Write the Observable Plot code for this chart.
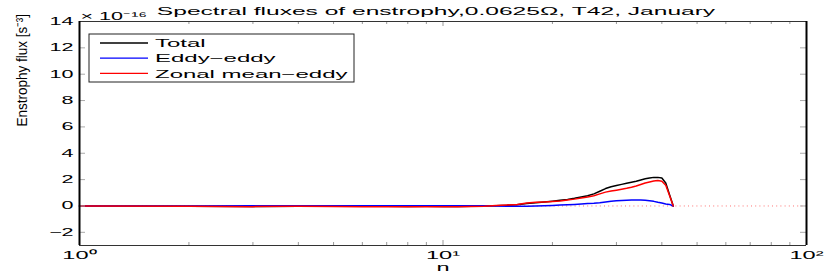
<!DOCTYPE html>
<html><head><meta charset="utf-8">
<script src="https://cdn.jsdelivr.net/npm/d3@7"></script>
<script src="https://cdn.jsdelivr.net/npm/@observablehq/plot@0.6"></script>
<style>body{margin:0;background:#fff} svg{display:block;background:#fff}</style>
</head><body><div id="chart"></div>
<script>
// ---- data (units of 1e-16 s^-3) ----
const n = [1,2,3,4,5,6,7,8,9,10,11,12,13,14,15,16,17,18,19,20,21,22,23,24,25,26,27,28,29,30,31,32,33,34,35,36,37,38,39,40,41,42,43];
const total = [0,-0.02,-0.04,-0.02,-0.02,-0.03,-0.03,-0.04,-0.03,-0.04,-0.04,-0.03,-0.01,0.02,0.05,0.1,0.18,0.25,0.3,0.36,0.43,0.5,0.58,0.68,0.78,0.92,1.12,1.32,1.46,1.55,1.64,1.72,1.8,1.88,1.97,2.06,2.12,2.17,2.17,2.12,1.75,0.85,0];
const eddy  = [0,0,0.01,0.01,0.02,0.02,0.02,0.02,0.02,0.02,0.01,0.01,0.01,0,-0.02,-0.02,-0.02,0,0.02,0.04,0.07,0.09,0.12,0.15,0.18,0.2,0.24,0.3,0.36,0.39,0.42,0.44,0.45,0.46,0.46,0.44,0.4,0.35,0.28,0.22,0.15,0.12,0];
const zonal = [0,-0.02,-0.05,-0.03,-0.04,-0.05,-0.05,-0.06,-0.05,-0.06,-0.05,-0.04,-0.02,0.03,0.07,0.12,0.22,0.28,0.31,0.34,0.38,0.45,0.52,0.6,0.68,0.78,0.92,1.05,1.13,1.2,1.27,1.34,1.42,1.52,1.63,1.74,1.82,1.9,1.93,1.88,1.58,0.8,0];
const seriesNames = ["Total", "Eddy\u2212eddy", "Zonal mean\u2212eddy"];
const seriesColors = ["#000000", "#0000ff", "#ff0000"];
const xDomain = [1, 100];
const yDomain = [-3, 14];
const xMajorTicks = [1, 10, 100];
const xTickLabels = ["10\u2070", "10\u00b9", "10\u00b2"];
const xInnerMajor = [10];
const xMinorTicks = [2,3,4,5,6,7,8,9,20,30,40,50,60,70,80,90];
const yTicks = [-2, 0, 2, 4, 6, 8, 10, 12, 14];
const zeroLine = [0];
const titleText = "Spectral fluxes of enstrophy,0.0625\u03a9, T42, January";
const scaleNote = "\u00d7 10\u207b\u00b9\u2076";
const yLabelText = "Enstrophy flux [s\u207b\u00b3]";
const xLabelText = "n";

// ---- layout ----
const W = 830, H = 273, mL = 79, mR = 24, mT = 21, mB = 28;
const fw = W - mL - mR, fh = H - mT - mB;
const FONT = "Liberation Sans, Arial, Helvetica, sans-serif";
const FS = 10.5;
const STRETCH = 2.05;

const rows = [];
[total, eddy, zonal].forEach((arr, s) => arr.forEach((v, i) => rows.push({n: n[i], v, series: seriesNames[s]})));

const plot = Plot.plot({
  width: W, height: H,
  marginLeft: mL, marginRight: mR, marginTop: mT, marginBottom: mB,
  style: {fontFamily: FONT, fontSize: FS + "px", background: "#fff", overflow: "visible"},
  x: {type: "log", domain: xDomain, label: null},
  y: {domain: yDomain, label: null},
  color: {domain: seriesNames, range: seriesColors},
  marks: [
    Plot.ruleY(zeroLine, {stroke: "#ff0000", strokeOpacity: 0.55, strokeDasharray: "1,3.2"}),
    Plot.line(rows, {x: "n", y: "v", z: "series", stroke: "series", strokeWidth: 1.5}),
    // inside ticks
    Plot.ruleX(xMinorTicks, {stroke: "#999", insetTop: fh - 3}),
    Plot.ruleX(xMinorTicks, {stroke: "#999", insetBottom: fh - 3}),
    Plot.ruleX(xInnerMajor, {stroke: "#999", insetTop: fh - 5}),
    Plot.ruleX(xInnerMajor, {stroke: "#999", insetBottom: fh - 5}),
    Plot.ruleY(yTicks, {stroke: "#aaa", insetRight: fw - 6}),
    Plot.ruleY(yTicks, {stroke: "#aaa", insetLeft: fw - 6}),
    // box
    Plot.ruleY(yDomain, {stroke: "#333", strokeWidth: 1}),
    Plot.ruleX(xDomain, {stroke: "#000", strokeWidth: 2}),
    Plot.axisX({ticks: xMajorTicks, tickFormat: (d, i) => xTickLabels[xMajorTicks.indexOf(d)], tickSize: 0, tickPadding: 5, fontSize: 11.5, label: null}),
    Plot.axisY({ticks: yTicks, tickSize: 0, tickPadding: 6, label: null}),
    Plot.text([titleText], {text: d => d, frameAnchor: "top", lineAnchor: "bottom", dy: -7, dx: -7, fontSize: FS + 0.8, className: "ttl"}),
    Plot.text([scaleNote], {text: d => d, frameAnchor: "top-left", textAnchor: "start", lineAnchor: "bottom", dy: -2, dx: 1, fontSize: FS}),
    Plot.text([xLabelText], {text: d => d, frameAnchor: "bottom", lineAnchor: "middle", dy: 22, fontSize: FS + 1}),
    Plot.text([yLabelText], {text: d => d, frameAnchor: "left", rotate: -90, dx: -57, dy: -7, fontSize: 13.5, className: "ylab"})
  ]
});
document.getElementById("chart").appendChild(plot);

// ---- legend (inside the axes, top-left) ----
const svg = d3.select(plot);
const lg = svg.append("g").attr("class", "legend").attr("transform", `translate(${mL + 10},${mT + 13})`);
lg.append("rect").attr("x", 0).attr("y", 0).attr("width", 265).attr("height", 48)
  .attr("fill", "#fff").attr("stroke", "#222").attr("stroke-width", 1);
seriesNames.forEach((name, i) => {
  const yy = 9 + i * 15.2;
  lg.append("line").attr("x1", 11).attr("x2", 59).attr("y1", yy).attr("y2", yy)
    .attr("stroke", seriesColors[i]).attr("stroke-width", 1.3);
  lg.append("text").attr("x", 66).attr("y", yy).attr("dy", "0.36em").attr("text-anchor", "start")
    .attr("font-family", FONT).attr("font-size", FS + 1.2).attr("fill", "#000").text(name);
});

// ---- horizontal stretch of horizontal text (mimics the reference's wide glyphs) ----
svg.selectAll("text").each(function() {
  const t = this.getAttribute("transform") || "";
  const w = this.getComputedTextLength();
  if (!(w > 0)) return;
  if (t.includes("rotate")) {
    // rotated label: keep length, thicken glyphs across
    this.setAttribute("transform", t + " scale(1,1.15)");
    return;
  }
  const inTitle = this.closest(".ttl") !== null;
  this.setAttribute("textLength", (w * STRETCH * (inTitle ? 1.06 : 1)).toFixed(1));
  this.setAttribute("lengthAdjust", "spacingAndGlyphs");
});
</script>
</body></html>
